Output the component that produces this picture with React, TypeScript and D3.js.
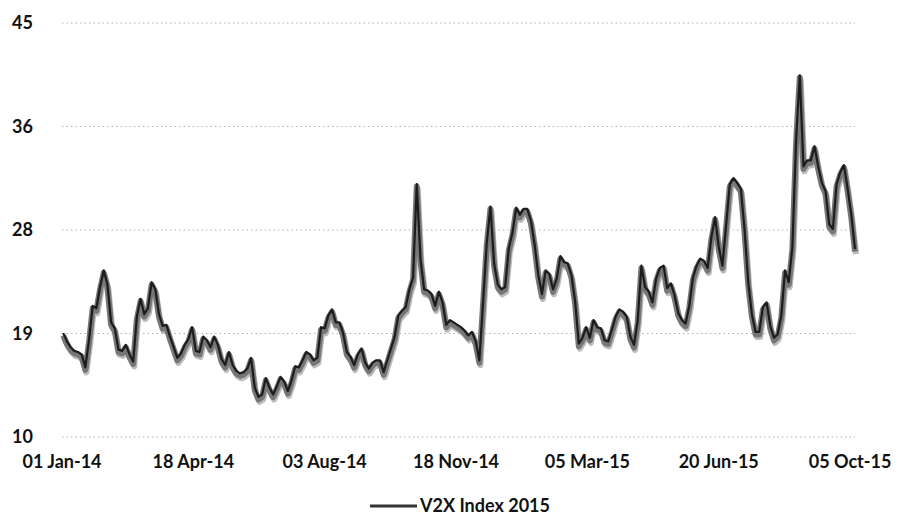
import React from "react";
import * as d3 from "d3";

// V2X readings every 3 calendar days from 02 Jan 2014
const startDate = "2014-01-02";
const stepDays = 3;
const v2x = [
	18.7, 18.0, 17.5, 17.2, 17.1, 16.9, 15.8, 18.1, 21.0, 20.8,
	22.6, 24.0, 22.8, 19.6, 19.1, 17.3, 17.2, 17.7, 16.9, 16.3,
	20.1, 21.6, 20.3, 20.8, 23.0, 22.4, 20.3, 19.3, 19.4, 18.4,
	17.5, 16.6, 17.0, 17.7, 18.2, 19.2, 17.2, 17.1, 18.4, 18.1,
	17.5, 18.4, 17.7, 16.5, 16.0, 17.1, 16.0, 15.5, 15.3, 15.4,
	15.7, 16.6, 14.1, 13.3, 13.5, 14.9, 14.1, 13.5, 14.2, 15.0,
	14.6, 13.8, 14.7, 15.9, 15.8, 16.4, 17.1, 16.9, 16.4, 16.6,
	19.2, 19.1, 20.2, 20.7, 19.6, 19.6, 18.7, 17.1, 16.7, 16.0,
	16.9, 17.4, 16.2, 15.7, 16.2, 16.4, 16.4, 15.4, 16.4, 17.4,
	18.4, 20.2, 20.6, 20.9, 22.4, 23.4, 31.3, 25.0, 22.4, 22.3,
	22.0, 21.0, 22.2, 21.3, 19.4, 19.8, 19.6, 19.4, 19.2, 18.9,
	18.5, 18.8, 18.0, 16.4, 21.3, 26.3, 29.4, 24.6, 22.8, 22.4,
	22.6, 25.9, 27.2, 29.3, 28.7, 29.2, 29.2, 28.2, 26.2, 23.6,
	22.0, 24.0, 23.7, 22.4, 23.3, 25.2, 24.7, 24.6, 23.6, 21.4,
	17.8, 18.3, 19.2, 18.3, 19.8, 19.2, 19.1, 18.1, 18.0, 19.0,
	20.1, 20.7, 20.5, 20.1, 18.4, 17.7, 19.8, 24.4, 22.6, 22.2,
	21.3, 23.3, 24.2, 24.4, 22.5, 22.9, 21.9, 20.4, 19.8, 19.5,
	21.0, 23.4, 24.4, 25.0, 24.8, 24.2, 26.8, 28.5, 26.0, 24.4,
	27.8, 31.3, 31.8, 31.4, 30.9, 27.5, 23.0, 20.3, 18.8, 18.8,
	20.9, 21.3, 19.3, 18.3, 18.6, 20.2, 24.0, 23.0, 26.0, 35.0,
	40.5, 32.8, 33.3, 33.3, 34.5, 32.8, 31.4, 30.7, 27.9, 27.5,
	31.3, 32.3, 32.9, 30.9, 28.7, 25.8,
];

const xTicks = ["2014-01-01", "2014-04-18", "2014-08-03", "2014-11-18", "2015-03-05", "2015-06-20", "2015-10-05"];
const yTicks = [10, 18.75, 27.5, 36.25, 45];
const seriesName = "V2X Index 2015";

const parse = d3.utcParse("%Y-%m-%d");
const fmtDate = d3.utcFormat("%d %b-%y");
const fmtVal = d3.format(".0f");

const points = v2x.map((v, i) => ({
	date: d3.utcDay.offset(parse(startDate) as Date, i * stepDays),
	value: v,
}));

const x = d3
	.scaleUtc()
	.domain([parse("2014-01-01") as Date, points[points.length - 1].date])
	.range([62, 855]);
const y = d3.scaleLinear().domain([10, 45]).range([437, 23]);

const line = d3
	.line<{ date: Date; value: number }>()
	.x(d => x(d.date))
	.y(d => y(d.value));

const font = "Lato, 'Liberation Sans', sans-serif";
const labelStyle = { fontFamily: font, fontSize: "18px", fontWeight: 700, fill: "#111" };

export default function App() {
	const path = line(points) || "";
	return (
		<svg
			width={900}
			height={523}
			style={{ position: "absolute", left: 0, top: 0, background: "#fff" }}>
			{yTicks.map(t => (
				<g key={t}>
					<line
						x1={x.range()[0]}
						x2={x.range()[1]}
						y1={y(t)}
						y2={y(t)}
						stroke="#b0b0b0"
						strokeWidth={1}
						strokeDasharray="1.5 3"/>
					<text x={33} y={y(t)} dy="0.35em" textAnchor="end" style={labelStyle}>
						{fmtVal(t)}
					</text>
				</g>
			))}
			{xTicks.map(t => (
				<text key={t} x={x(parse(t) as Date)} y={468} textAnchor="middle" style={labelStyle}>
					{fmtDate(parse(t) as Date)}
				</text>
			))}
			{/* scanned look: light shadow, grey body, dark upper edge */}
			<path d={path} transform="translate(1,4)" fill="none" stroke="#bcbcbc" strokeWidth={6} strokeLinejoin="round"/>
			<path d={path} transform="translate(0,1.5)" fill="none" stroke="#767676" strokeWidth={6} strokeLinejoin="round"/>
			<path d={path} transform="translate(0,-1)" fill="none" stroke="#1c1c1c" strokeWidth={2.2} strokeLinejoin="round"/>
			<g transform="translate(370, 506)">
				<line x1={0} x2={47} y1={0} y2={0} stroke="#333" strokeWidth={3}/>
				<text x={50} y={0} dy="0.35em" style={labelStyle}>
					{seriesName}
				</text>
			</g>
		</svg>
	);
}
